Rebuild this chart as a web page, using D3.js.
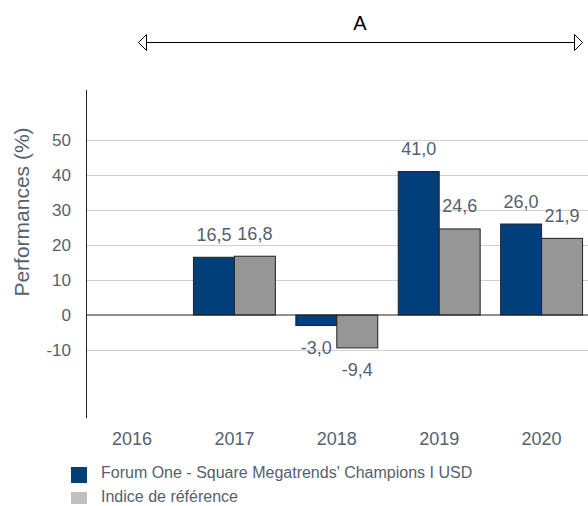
<!DOCTYPE html>
<html>
<head>
<meta charset="utf-8">
<script src="https://cdn.jsdelivr.net/npm/d3@7"></script>
<style>
  body { margin: 0; background: #fff; }
  text { font-family: "Liberation Sans", Arial, sans-serif; }
</style>
</head>
<body>
<div id="chart"></div>
<script>
// data
const years = ["2016", "2017", "2018", "2019", "2020"];
const seriesNames = ["Forum One - Square Megatrends' Champions I USD", "Indice de référence"];
const fundValues = [null, 16.5, -3.0, 41.0, 26.0];
const indexValues = [null, 16.8, -9.4, 24.6, 21.9];
const yTicks = [-10, 0, 10, 20, 30, 40, 50];

const width = 588, height = 506;
const textColor = "#56616d";
const colors = ["#003f7a", "#969696"];
const legendColors = ["#003f7a", "#c0c0c0"];

const svg = d3.select("#chart").append("svg")
  .attr("width", width)
  .attr("height", height);

// scales
const x = d3.scaleBand()
  .domain(years)
  .range([80.8, 592.8]);

const x1 = d3.scaleBand()
  .domain([0, 1])
  .range([0, x.bandwidth()])
  .paddingOuter(0.25);

const y = d3.scaleLinear()
  .domain([-29, 64.3])
  .range([416.5, 90]);

const axisX = 86;
const fmt = v => d3.format(".1f")(v).replace("−", "-").replace(".", ",");

// gridlines
svg.append("g")
  .selectAll("line")
  .data(yTicks.filter(d => d !== 0))
  .join("line")
  .attr("x1", axisX)
  .attr("x2", width)
  .attr("y1", d => Math.round(y(d)) + 0.5)
  .attr("y2", d => Math.round(y(d)) + 0.5)
  .attr("stroke", "#d0d0d0")
  .attr("stroke-width", 1);

// y tick labels
svg.append("g")
  .selectAll("text")
  .data(yTicks)
  .join("text")
  .attr("x", 71)
  .attr("y", d => y(d))
  .attr("dy", "0.35em")
  .attr("text-anchor", "end")
  .attr("fill", textColor)
  .style("font-size", "17px")
  .text(d => d);

// y title
svg.append("text")
  .attr("transform", `translate(29, 212) rotate(-90)`)
  .attr("text-anchor", "middle")
  .attr("fill", textColor)
  .style("font-size", "21px")
  .text("Performances (%)");

// bars
const rows = years.map((yr, i) => [fundValues[i], indexValues[i]]);

rows.forEach((vals, i) => {
  const g = svg.append("g").attr("transform", `translate(${x(years[i])},0)`);
  vals.forEach((v, s) => {
    if (v === null) return;
    g.append("rect")
      .attr("x", x1(s))
      .attr("y", y(Math.max(0, v)))
      .attr("width", x1.bandwidth())
      .attr("height", Math.abs(y(v) - y(0)))
      .attr("fill", colors[s])
      .attr("stroke", "#222")
      .attr("stroke-width", 1);

    g.append("text")
      .attr("x", x1(s) + x1.bandwidth() / 2)
      .attr("y", v >= 0 ? y(v) - 16.5 : y(v) + 28.5)
      .attr("text-anchor", "middle")
      .attr("fill", textColor)
      .style("font-size", "18px")
      .text(fmt(v));
  });
});

// zero line and y axis line
svg.append("line")
  .attr("x1", axisX).attr("x2", width)
  .attr("y1", y(0)).attr("y2", y(0))
  .attr("stroke", "#222").attr("stroke-width", 1.2);

svg.append("line")
  .attr("x1", axisX + 0.5).attr("x2", axisX + 0.5)
  .attr("y1", 90).attr("y2", 418)
  .attr("stroke", "#222").attr("stroke-width", 1);

// x labels
svg.append("g")
  .selectAll("text")
  .data(years)
  .join("text")
  .attr("x", d => x(d) + x.bandwidth() / 2)
  .attr("y", 445)
  .attr("text-anchor", "middle")
  .attr("fill", textColor)
  .style("font-size", "18px")
  .text(d => d);

// top arrow with "A"
const arrowY = 42.5;
svg.append("line")
  .attr("x1", 146).attr("x2", 575)
  .attr("y1", arrowY).attr("y2", arrowY)
  .attr("stroke", "#000").attr("stroke-width", 1.2);

svg.append("path")
  .attr("d", `M138.5,${arrowY} L146.5,${arrowY - 8} L146.5,${arrowY + 8} Z`)
  .attr("fill", "#fff").attr("stroke", "#000");

svg.append("path")
  .attr("d", `M582.5,${arrowY} L574.5,${arrowY - 8} L574.5,${arrowY + 8} Z`)
  .attr("fill", "#fff").attr("stroke", "#000");

svg.append("text")
  .attr("x", 360)
  .attr("y", 30)
  .attr("text-anchor", "middle")
  .attr("fill", "#000")
  .style("font-size", "20px")
  .text("A");

// legend
const legend = svg.append("g");
seriesNames.forEach((name, i) => {
  legend.append("rect")
    .attr("x", 71)
    .attr("y", 467 + i * 25)
    .attr("width", 16)
    .attr("height", i === 0 ? 16 : 12)
    .attr("fill", legendColors[i]);
  legend.append("text")
    .attr("x", 101)
    .attr("y", 478 + i * 24)
    .attr("fill", textColor)
    .style("font-size", "16px")
    .text(name);
});
</script>
</body>
</html>
